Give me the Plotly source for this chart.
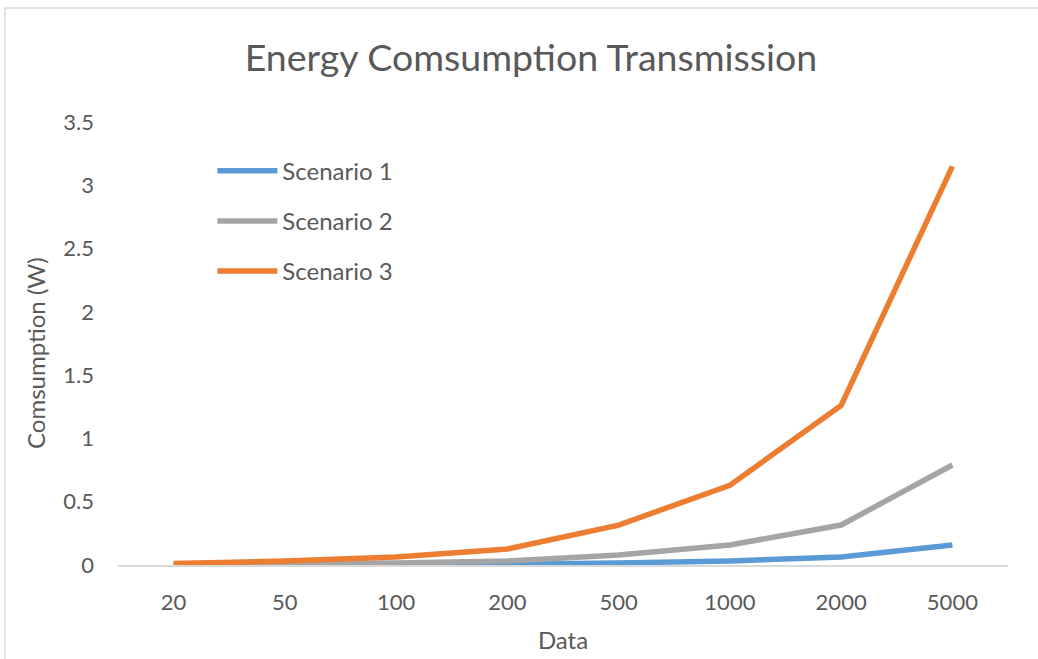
import plotly.graph_objects as go

categories = ["20", "50", "100", "200", "500", "1000", "2000", "5000"]
scenario1 = [0.0006, 0.0016, 0.0032, 0.0063, 0.016, 0.032, 0.063, 0.158]
scenario2 = [0.0032, 0.0079, 0.0158, 0.0316, 0.079, 0.158, 0.316, 0.79]
scenario3 = [0.0126, 0.0315, 0.063, 0.126, 0.315, 0.63, 1.26, 3.15]
series_names = ["Scenario 1", "Scenario 2", "Scenario 3"]
colors = ["#5B9BD5", "#A5A5A5", "#ED7D31"]
y_ticks = [0, 0.5, 1, 1.5, 2, 2.5, 3, 3.5]
y_tick_labels = ["0", "0.5", "1", "1.5", "2", "2.5", "3", "3.5"]

FONT = "Lato"
TXT = "#595959"

fig = go.Figure()
for name, vals, col in zip(series_names, [scenario1, scenario2, scenario3], colors):
    fig.add_trace(go.Scatter(x=categories, y=vals, name=name, mode="lines", legendgroup=name,
                             line=dict(color=col, width=5.5)))

fig.update_layout(
    width=1038, height=659,
    margin=dict(l=118, r=30, t=122, b=94, autoexpand=False),
    paper_bgcolor="white", plot_bgcolor="white",
    font=dict(family=FONT, color=TXT, size=22),
    title=dict(text="Energy Comsumption Transmission", x=531 / 1038, xref="container", xanchor="center",
               y=1 - 58 / 659, yref="container", yanchor="middle",
               font=dict(family=FONT, size=37.5, color=TXT)),
    showlegend=True,
    legend=dict(x=0.106, y=0.94, xanchor="left", yanchor="top", bgcolor="rgba(0,0,0,0)",
                font=dict(family=FONT, size=24, color=TXT), tracegroupgap=16, itemwidth=60),
    xaxis=dict(type="category", range=[-0.5, 7.5], showgrid=False, showline=True,
               linecolor="#D9D9D9", linewidth=1.5, automargin=False,
               ticks="", ticklabelstandoff=17, tickfont=dict(size=22, color=TXT),
               title=dict(text="Data", font=dict(size=24, color=TXT), standoff=18)),
    yaxis=dict(range=[0, 3.5], tickvals=y_ticks, ticktext=y_tick_labels, showgrid=False,
               zeroline=False, showline=False, ticks="", ticklabelstandoff=23, automargin=False,
               tickfont=dict(size=22, color=TXT)),
)

fig.add_annotation(text="Comsumption (W)", textangle=-90, showarrow=False,
                   xref="paper", yref="paper",
                   x=(35 - 118) / 890, y=(565 - 353) / 443, xanchor="center", yanchor="middle",
                   font=dict(family=FONT, size=24, color=TXT))

fig.add_shape(type="rect", xref="paper", yref="paper",
              x0=(5 - 118) / 890, x1=1.3,
              y0=-0.5, y1=1 + (122 - 8) / 443,
              line=dict(color="#D9D9D9", width=1.5), fillcolor="rgba(0,0,0,0)", layer="below")

fig.write_html("out.html", config={"displayModeBar": False},
               post_script="document.body.style.margin='0';document.body.style.overflow='hidden';")
